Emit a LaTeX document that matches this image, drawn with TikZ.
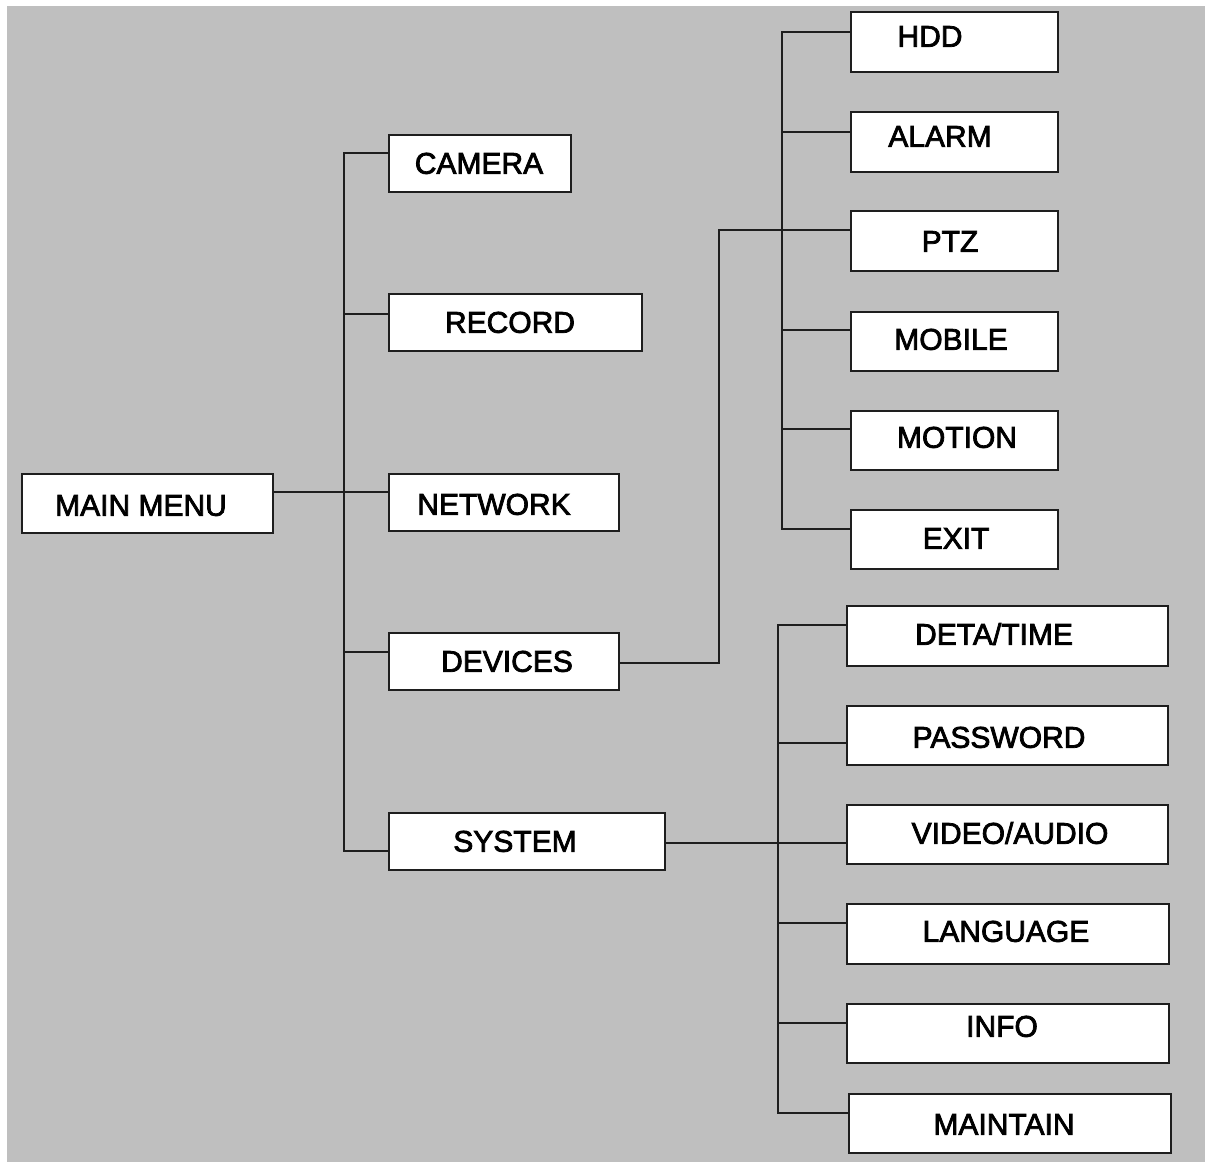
\documentclass[tikz,border=0pt]{standalone}
\usepackage{fontspec}
\setmainfont{Liberation Sans}
\newfontfamily\lblfont[FakeBold=2.5]{Liberation Sans}
\definecolor{bg}{RGB}{191,191,191}
\definecolor{ink}{RGB}{30,30,30}
\tikzset{
  boxst/.style={draw=ink, line width=2pt, fill=white, inner sep=0pt, outer sep=0pt},
  lbl/.style={font=\lblfont\fontsize{30}{36}\selectfont, text=black, text height=21.5pt, text depth=0pt, inner sep=0pt, anchor=center},
  wire/.style={draw=ink, line width=2pt}
}
\newcommand\menubox[8]{%
  \node[boxst, minimum width={(#4)-(#2)}, minimum height={(#5)-(#3)}] (#1) at ({((#2)+(#4))/2},{((#3)+(#5))/2}) {};
  \node[lbl] (#1-t) at (#6,#7) {#8};}
\begin{document}
\begin{tikzpicture}[x=1pt, y=-1pt]
\useasboundingbox (0,0) rectangle (1205,1162);
\fill[white] (0,0) rectangle (1205,1162);
\fill[bg] (7,6) rectangle (1205,1162);

% junction coordinates
\coordinate (mtop) at (344,153);
\coordinate (jr) at (344,314);
\coordinate (jn) at (344,492);
\coordinate (jd) at (344,652);
\coordinate (mbot) at (344,851);
\coordinate (dk1) at (719,663);
\coordinate (dk2) at (719,230);
\coordinate (dtop) at (782,32);
\coordinate (da) at (782,132);
\coordinate (dm) at (782,330);
\coordinate (dn) at (782,429);
\coordinate (dbot) at (782,529);
\coordinate (so) at (700,843);
\coordinate (stop) at (778,625);
\coordinate (sp) at (778,743);
\coordinate (sl) at (778,923);
\coordinate (si) at (778,1023);
\coordinate (sbot) at (778,1113);

% boxes
\menubox{main}{22}{474}{273}{533}{141}{505}{MAIN MENU}
\menubox{camera}{389}{135}{571}{192}{479}{163}{CAMERA}
\menubox{record}{389}{294}{642}{351}{510}{322}{RECORD}
\menubox{network}{389}{474}{619}{531}{494}{504}{NETWORK}
\menubox{devices}{389}{633}{619}{690}{507}{661}{DEVICES}
\menubox{system}{389}{813}{665}{870}{515}{841}{SYSTEM}
\menubox{hdd}{851}{12}{1058}{72}{930}{36}{HDD}
\menubox{alarm}{851}{112}{1058}{172}{940}{136}{ALARM}
\menubox{ptz}{851}{211}{1058}{271}{950}{241}{PTZ}
\menubox{mobile}{851}{312}{1058}{371}{951}{339}{MOBILE}
\menubox{motion}{851}{411}{1058}{470}{957}{437}{MOTION}
\menubox{exit}{851}{510}{1058}{569}{956}{538}{EXIT}
\menubox{deta}{847}{606}{1168}{666}{994}{634}{DETA/TIME}
\menubox{pass}{847}{706}{1168}{765}{999}{737}{PASSWORD}
\menubox{video}{847}{805}{1168}{864}{1010}{833}{VIDEO/AUDIO}
\menubox{lang}{847}{904}{1169}{964}{1006}{931}{LANGUAGE}
\menubox{info}{847}{1004}{1169}{1063}{1002}{1026}{INFO}
\menubox{maint}{849}{1094}{1171}{1153}{1004}{1124}{MAINTAIN}

% main tree
\draw[wire] (camera.west |- mtop) -- (mtop) -- (mbot) -- (system.west |- mbot);
\draw[wire] (jr) -- (record.west |- jr);
\draw[wire] (main.east |- jn) -- (network.west |- jn);
\draw[wire] (jd) -- (devices.west |- jd);

% devices subtree
\draw[wire] (devices.east |- dk1) -- (dk1) -- (dk2) -- (ptz.west |- dk2);
\draw[wire] (hdd.west |- dtop) -- (dtop) -- (dbot) -- (exit.west |- dbot);
\draw[wire] (da) -- (alarm.west |- da);
\draw[wire] (dm) -- (mobile.west |- dm);
\draw[wire] (dn) -- (motion.west |- dn);

% system subtree
\draw[wire] (system.east |- so) -- (video.west |- so);
\draw[wire] (deta.west |- stop) -- (stop) -- (sbot) -- (maint.west |- sbot);
\draw[wire] (sp) -- (pass.west |- sp);
\draw[wire] (sl) -- (lang.west |- sl);
\draw[wire] (si) -- (info.west |- si);
\end{tikzpicture}
\end{document}
